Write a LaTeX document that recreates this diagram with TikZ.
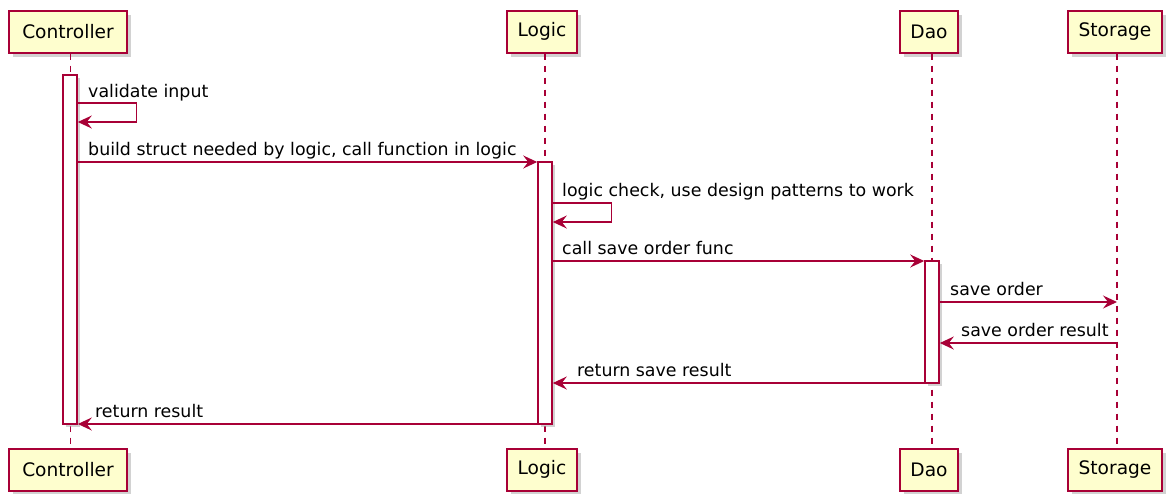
\documentclass[tikz,border=0pt]{standalone}
\usepackage{fontspec}
\setmainfont{DejaVu Sans}
\usetikzlibrary{arrows.meta,shadows}
\definecolor{umlred}{HTML}{A80036}
\definecolor{umlfill}{HTML}{FEFECE}
\begin{document}
\begin{tikzpicture}[x=1pt,y=-1pt,
  participant/.style={draw=umlred,fill=umlfill,line width=2pt,minimum height=42pt,inner sep=0pt,
    font=\fontsize{18.6}{20}\selectfont,
    drop shadow={shadow xshift=4pt,shadow yshift=-4pt,fill=black!35,opacity=0.5}},
  actbar/.style={draw=umlred,fill=white,line width=1.6pt,minimum width=14pt,inner sep=0pt,
    drop shadow={shadow xshift=3pt,shadow yshift=-3pt,fill=black!35,opacity=0.5}},
  lifeline/.style={draw=umlred,line width=1.2pt,dash pattern=on 6pt off 6pt},
  msg/.style={draw=umlred,line width=1.3pt,-{Stealth[length=14pt,width=13pt,inset=5pt]}},
  lbl/.style={anchor=base west,inner sep=0pt,font=\fontsize{17.4}{20}\selectfont}]
\useasboundingbox (0,0) rectangle (1166,493);
% participants (top / bottom)
\node[participant,minimum width=118pt] (ctop) at (68,31.5) {Controller};
\node[participant,minimum width=70pt]  (ltop) at (542,31.5) {Logic};
\node[participant,minimum width=58pt]  (dtop) at (929,31.5) {Dao};
\node[participant,minimum width=94pt]  (stop) at (1115,31.5) {Storage};
\node[participant,minimum width=118pt] (cbot) at (68,469.5) {Controller};
\node[participant,minimum width=70pt]  (lbot) at (542,469.5) {Logic};
\node[participant,minimum width=58pt]  (dbot) at (929,469.5) {Dao};
\node[participant,minimum width=94pt]  (sbot) at (1115,469.5) {Storage};
% lifelines
\path (ctop.south) ++(2.5,0) coordinate (cl1) (cbot.north) ++(2.5,0) coordinate (cl2);
\path (ltop.south) ++(3,0) coordinate (ll1) (lbot.north) ++(3,0) coordinate (ll2);
\path (dtop.south) ++(3,0) coordinate (dl1) (dbot.north) ++(3,0) coordinate (dl2);
\path (stop.south) ++(2,0) coordinate (sl1) (sbot.north) ++(2,0) coordinate (sl2);
\draw[lifeline] (cl1) -- (cl2);
\draw[lifeline] (ll1) -- (ll2);
\draw[lifeline] (dl1) -- (dl2);
\draw[lifeline] (sl1) -- (sl2);
% activation bars
\node[actbar,minimum height=349pt] (cbar) at (70,249.5) {};
\node[actbar,minimum height=262pt] (lbar) at (545,293) {};
\node[actbar,minimum height=122pt] (dbar) at (932,322) {};
% message rows
\coordinate (r1a) at (0,103);
\coordinate (r1b) at (0,122);
\coordinate (r2) at (0,162);
\coordinate (r3a) at (0,203);
\coordinate (r3b) at (0,222);
\coordinate (r4) at (0,261);
\coordinate (r5) at (0,302);
\coordinate (r6) at (0,343);
\coordinate (r7) at (0,383);
\coordinate (r8) at (0,424);
% messages
\draw[msg] (cbar.east |- r1a) -- ++(59,0) |- (cbar.east |- r1b);
\node[lbl] (t1) at (88,97) {validate input};
\draw[msg] (cbar.east |- r2) -- (lbar.west |- r2);
\node[lbl] (t2) at (88,155) {build struct needed by logic, call function in logic};
\draw[msg] (lbar.east |- r3a) -- ++(59,0) |- (lbar.east |- r3b);
\node[lbl] (t3) at (562,196) {logic check, use design patterns to work};
\draw[msg] (lbar.east |- r4) -- (dbar.west |- r4);
\node[lbl] (t4) at (562,254.5) {call save order func};
\draw[msg] (dbar.east |- r5) -- (sl1 |- r5);
\node[lbl] (t5) at (950,295.5) {save order};
\draw[msg] (sl1 |- r6) -- (dbar.east |- r6);
\node[lbl] (t6) at (961,336) {save order result};
\draw[msg] (dbar.west |- r7) -- (lbar.east |- r7);
\node[lbl] (t7) at (577,376) {return save result};
\draw[msg] (lbar.west |- r8) -- (cbar.east |- r8);
\node[lbl] (t8) at (95,417) {return result};
\end{tikzpicture}
\end{document}
